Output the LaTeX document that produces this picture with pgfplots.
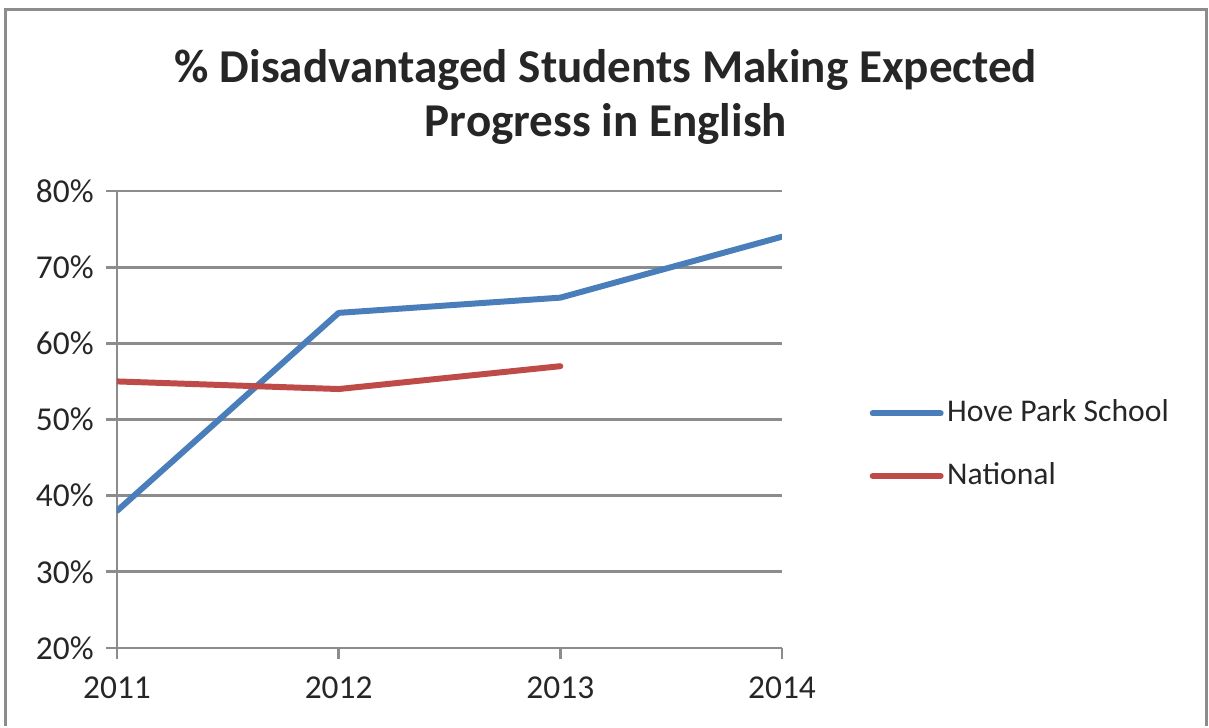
\documentclass[border=0pt]{standalone}
\usepackage{pgfplots}
\pgfplotsset{compat=1.18}
\usepackage{fontspec}
\setmainfont{Carlito}

\definecolor{hoveblue}{HTML}{4A7EBB}
\definecolor{natred}{HTML}{BE4B48}
\definecolor{gridgray}{HTML}{8C8C8C}
\definecolor{txt}{HTML}{262626}

\begin{document}
\begin{tikzpicture}
  % fixed page size, 0.01cm = 1 pixel of the reference
  \path (0,0) rectangle (12.09,7.26);
  \draw[gridgray, line width=0.03cm] (0.05,0) -- (0.05,7.16) -- (12.06,7.16) -- (12.06,0);

  \node[anchor=base, font=\fontsize{13.4}{16}\selectfont\bfseries, text=txt] at (6.06,6.43)
    {\% Disadvantaged Students Making Expected};
  \node[anchor=base, font=\fontsize{13.4}{16}\selectfont\bfseries, text=txt] at (6.06,5.89)
    {Progress in English};

  \begin{axis}[
      at={(1.17cm,0.78cm)}, anchor=south west,
      scale only axis,
      width=6.65cm, height=4.57cm,
      xmin=2011, xmax=2014,
      ymin=20, ymax=80,
      xtick={2011,2012,2013,2014},
      xticklabels={2011,2012,2013,2014},
      ytick={20,30,40,50,60,70,80},
      yticklabels={20\%,30\%,40\%,50\%,60\%,70\%,80\%},
      axis x line=bottom, axis y line=left,
      axis line style={-, gridgray, line width=0.8pt},
      xtick pos=left, ytick pos=left,
      every tick/.style={gridgray, line width=0.8pt},
      tick align=outside,
      major tick length=0.11cm,
      ymajorgrids,
      grid style={gridgray, line width=0.8pt},
      /pgf/number format/assume math mode=true,
      ticklabel style={font=\fontsize{9.5}{11}\selectfont, text=txt},
      xticklabel style={yshift=-0.05cm},
      legend style={at={(1.115,0.445)}, anchor=west, draw=none, fill=none,
        font=\fontsize{9}{11}\selectfont, text=txt, row sep=6pt,
        nodes={inner xsep=1pt}},
      legend cell align=left,
      legend image code/.code={\draw[#1] (0cm,0cm) -- (0.68cm,0cm);},
    ]
    \addplot[hoveblue, line width=1.7pt, line join=round, line cap=round] coordinates {
      (2011,38) (2012,64) (2013,66) (2014,74)
    };
    \addlegendentry{Hove Park School}
    \addplot[natred, line width=1.7pt, line join=round, line cap=round] coordinates {
      (2011,55) (2012,54) (2013,57)
    };
    \addlegendentry{National}
  \end{axis}
\end{tikzpicture}
\end{document}
